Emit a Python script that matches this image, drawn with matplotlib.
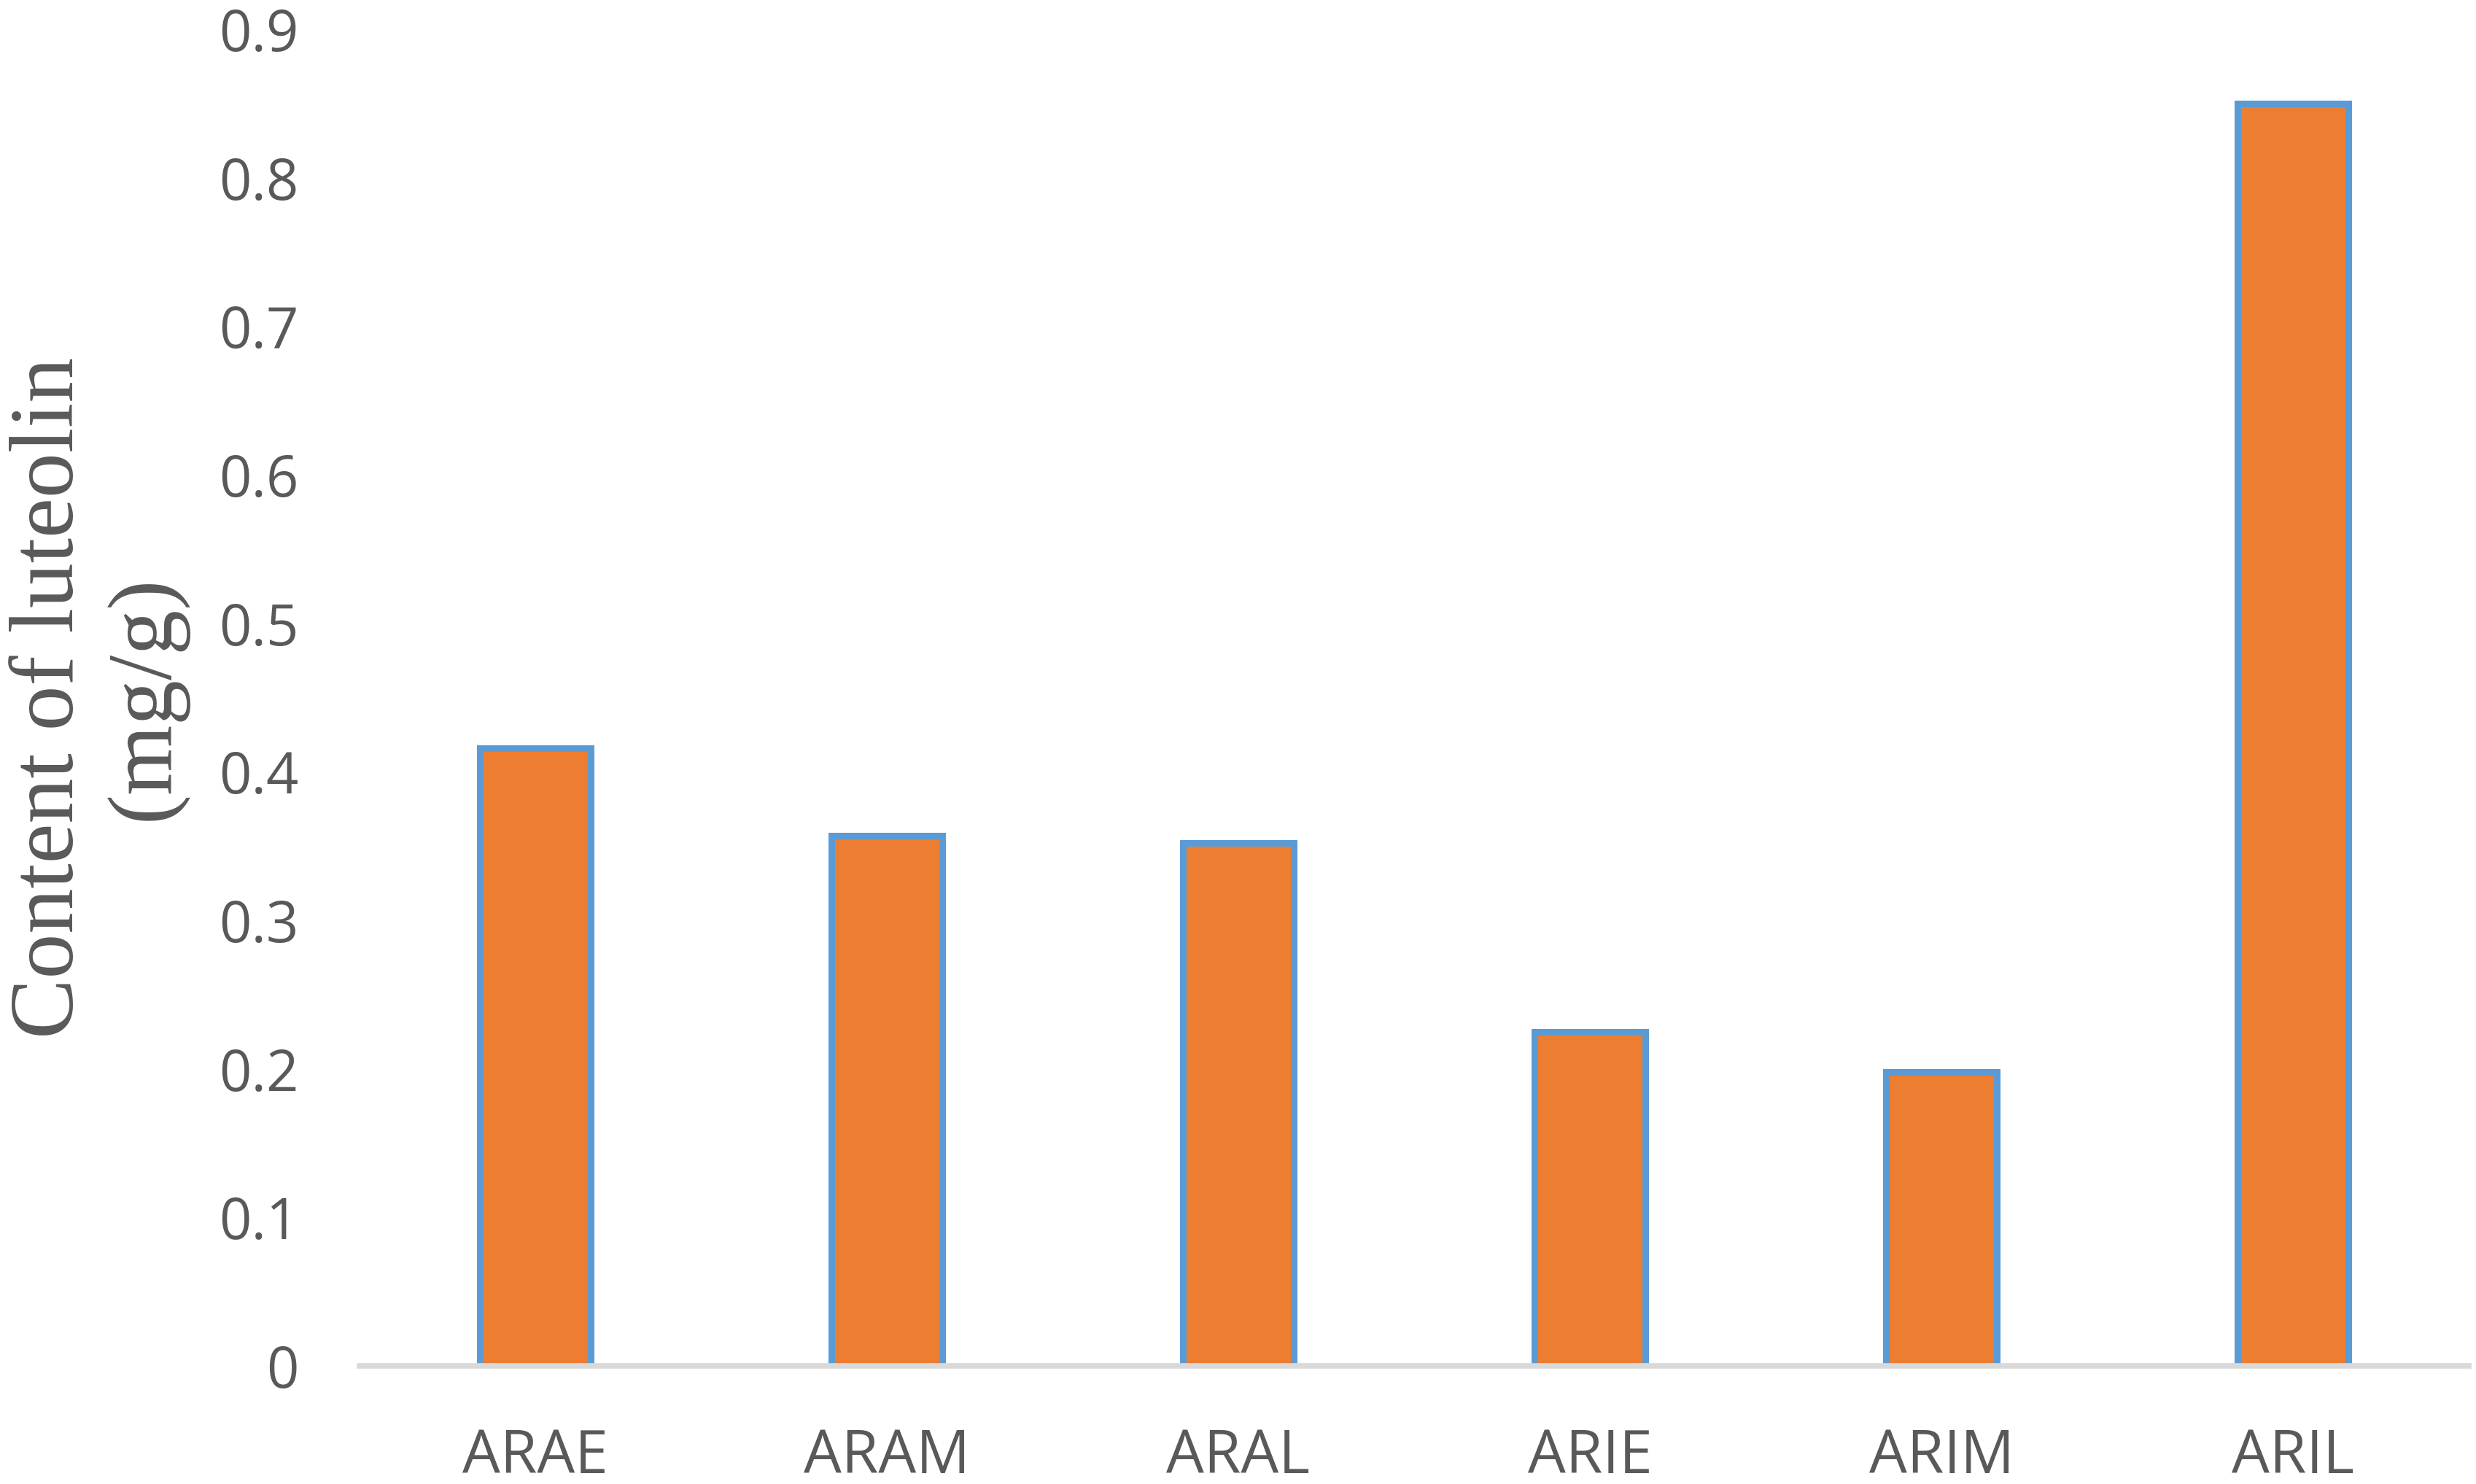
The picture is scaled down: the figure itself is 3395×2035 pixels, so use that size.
import matplotlib.pyplot as plt

# luteolin content per extract (mg/g)
samples = ['ARAE', 'ARAM', 'ARAL', 'ARIE', 'ARIM', 'ARIL']
luteolin = [0.416, 0.357, 0.352, 0.225, 0.198, 0.850]
yticks = [0, 0.1, 0.2, 0.3, 0.4, 0.5, 0.6, 0.7, 0.8, 0.9]

W, H = 3395, 2035
fig = plt.figure(figsize=(W / 100, H / 100), dpi=100)
ax = fig.add_axes([493 / W, 1 - 1873 / H, (3385 - 493) / W, (1873 - 40) / H])

x = range(len(samples))
ax.bar(x, luteolin, width=0.315, color='#ED7D31', edgecolor='#5B9BD5',
       linewidth=6.5, zorder=2)

ax.set_xlim(-0.5, len(samples) - 0.5)
ax.set_ylim(0, 0.9)
ax.set_yticks(yticks)
ax.set_yticklabels([f'{v:g}' for v in yticks])
ax.set_xticks(list(x))
ax.set_xticklabels(samples)

for s in ['top', 'right', 'left']:
    ax.spines[s].set_visible(False)
ax.spines['bottom'].set_color('#D9D9D9')
ax.spines['bottom'].set_linewidth(5.5)
ax.spines['bottom'].set_zorder(3)

ax.tick_params(axis='y', length=0, pad=60, labelsize=56, labelcolor='#595959')
ax.tick_params(axis='x', length=0, pad=61, labelsize=59, labelcolor='#595959')
for lab in ax.get_xticklabels() + ax.get_yticklabels():
    lab.set_fontfamily('Open Sans')

# two-line serif y title
yc = 1 - 957 / H
fig.text(100 / W, yc, 'Content of luteolin', rotation=90, rotation_mode='anchor',
         ha='center', va='baseline', fontsize=89, family='Liberation Serif',
         color='#595959')
fig.text(230 / W, yc, '(mg/g)', rotation=90, rotation_mode='anchor',
         ha='center', va='baseline', fontsize=89, family='Liberation Serif',
         color='#595959')

fig.savefig('out.png', dpi=100, facecolor='white')
